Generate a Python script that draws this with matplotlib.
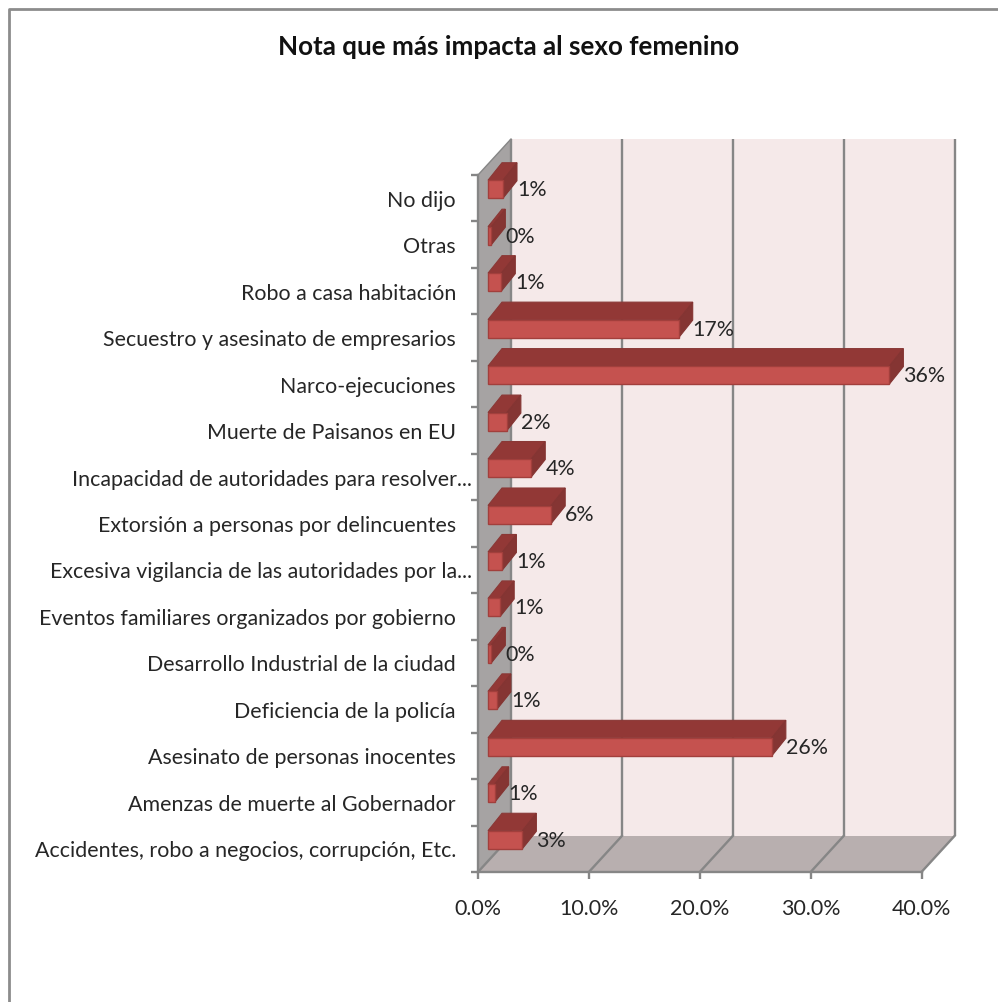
import matplotlib
matplotlib.use("Agg")
import matplotlib.pyplot as plt
from matplotlib.patches import Polygon
from matplotlib.lines import Line2D

categories = ["Accidentes, robo a negocios, corrupción, Etc.", "Amenzas de muerte al Gobernador",
              "Asesinato de personas inocentes", "Deficiencia de la policía",
              "Desarrollo Industrial de la ciudad", "Eventos familiares organizados por gobierno",
              "Excesiva vigilancia de las autoridades por la...", "Extorsión a personas por delincuentes",
              "Incapacidad de autoridades para resolver...", "Muerte de Paisanos en EU",
              "Narco-ejecuciones", "Secuestro y asesinato de empresarios", "Robo a casa habitación",
              "Otras", "No dijo"]
values = [3.1, 0.6, 25.6, 0.8, 0.3, 1.1, 1.3, 5.7, 3.9, 1.7, 36.2, 17.2, 1.2, 0.3, 1.35]
labels = ["3%", "1%", "26%", "1%", "0%", "1%", "1%", "6%", "4%", "2%", "36%", "17%", "1%", "0%", "1%"]
xticks = [0, 10, 20, 30, 40]
xticklabels = ["0.0%", "10.0%", "20.0%", "30.0%", "40.0%"]

W, H = 998, 1003
plt.rcParams['font.family'] = ['Lato', 'DejaVu Sans']
TXT = '#262626'
GRID = '#868686'
FS = 15.4

fig = plt.figure(figsize=(W / 100, H / 100), dpi=100)
L, R, T, B = 478.0, 921.5, 176.0, 873.0
ax = fig.add_axes([L / W, 1 - B / H, (R - L) / W, (B - T) / H])
ax.set_xlim(0, 40)
ax.set_ylim(0, 15)
ax.axis('off')
ux = 40 / (R - L)   # data units per pixel
uy = 15 / (B - T)

# chart frame
fig.add_artist(Line2D([8.5 / W, 8.5 / W, 1], [0, 1 - 10 / H, 1 - 10 / H], color='#8c8c8c', lw=2))

DX, DY = 33 * ux, 36 * uy

def poly(pts, fc, ec='none', lw=0, z=1):
    ax.add_patch(Polygon(pts, closed=True, fc=fc, ec=ec, lw=lw, zorder=z, clip_on=False))

# walls and floor
poly([(DX, DY), (40 + DX, DY), (40 + DX, 15 + DY), (DX, 15 + DY)], '#f5e9e9')
poly([(0, 0), (DX, DY), (DX, 15 + DY), (0, 15)], '#a6a3a3')
poly([(0, 0), (40, 0), (40 + DX, DY), (DX, DY)], '#b8afaf')

# gridlines on wall and floor
for t, tl in zip(xticks, xticklabels):
    ax.plot([t + DX, t + DX], [DY, 15 + DY], color=GRID, lw=1.7, zorder=2, clip_on=False,
            solid_capstyle='butt')
    ax.plot([t, t + DX], [0, DY], color=GRID, lw=1.7, zorder=2, clip_on=False)
    ax.plot([t, t], [0, -7 * uy], color=GRID, lw=1.7, zorder=2, clip_on=False, solid_capstyle='butt')
    ax.text(t, -36 * uy, tl, ha='center', va='center', fontsize=FS, color=TXT, clip_on=False)
ax.plot([0, 40], [0, 0], color=GRID, lw=1.7, zorder=2, clip_on=False)
ax.plot([0, 0], [0, 15], color=GRID, lw=1.7, zorder=2, clip_on=False)
ax.plot([0, DX], [15, 15 + DY], color=GRID, lw=1.0, zorder=2, clip_on=False)

# category ticks and labels
for i in range(16):
    ax.plot([-7 * ux, 0], [i, i], color=GRID, lw=1.7, zorder=2, clip_on=False, solid_capstyle='butt')
for i, c in enumerate(categories):
    gap = 6 if c.endswith('...') else 22   # truncated labels run closer to the axis
    ax.text(-gap * ux, i + 0.5 - 1.5 * uy, c, ha='right', va='center', fontsize=FS, color=TXT, clip_on=False)

# 3-D bars
bx, by = 10 * ux, 9 * uy      # shift of the front face into the depth
hh = 9 * uy
ddx, ddy = 14 * ux, 17.5 * uy
EDGE = '#a23f3c'
for i, v in enumerate(values):
    x0, x1 = bx, bx + v
    yc = i + 0.5 + by
    y0, y1 = yc - hh, yc + hh
    z = 5 + (15 - i) * 0.01
    poly([(x0, y1), (x1, y1), (x1 + ddx, y1 + ddy), (x0 + ddx, y1 + ddy)], '#923836', ec='#8a3836', lw=0.8, z=z)
    poly([(x1, y0), (x1 + ddx, y0 + ddy), (x1 + ddx, y1 + ddy), (x1, y1)], '#853533', ec='#843432', lw=0.8, z=z)
    poly([(x0, y0), (x1, y0), (x1, y1), (x0, y1)], '#c5524f', ec=EDGE, lw=1.0, z=z)
    ax.text(x1 + ddx, yc, labels[i], ha='left', va='center', fontsize=FS, color=TXT,
            zorder=8, clip_on=False)

fig.text(509 / W, 1 - 47 / H, "Nota que más impacta al sexo femenino", ha='center', va='center',
         fontsize=18.7, fontweight='bold', color='#111111')

fig.savefig('out.png', dpi=100, facecolor='white')
